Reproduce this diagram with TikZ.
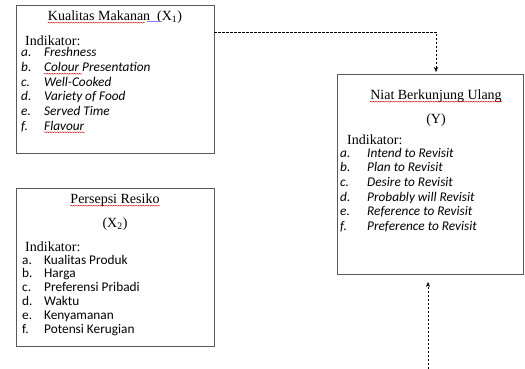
\documentclass[tikz,border=0pt]{standalone}
\usepackage{fontspec}
\setmainfont{Liberation Serif}
\newfontfamily\calibrifont{Carlito}
\usetikzlibrary{arrows.meta,decorations.pathmorphing,calc}
\begin{document}
\begin{tikzpicture}[x=1pt,y=-1pt,
  box/.style={draw=black!65,line width=0.8pt,minimum width=#1,inner sep=0pt,anchor=north west},
  ttl/.style={font=\fontsize{14}{16}\selectfont,inner sep=0pt,anchor=center,text height=10pt,text depth=3pt},
  ind/.style={font=\fontsize{14}{16}\selectfont,inner sep=0pt,anchor=west},
  itm/.style={font=\calibrifont\fontsize{13.3}{15}\selectfont,inner sep=0pt,anchor=west,text height=9pt,text depth=3pt},
  itmi/.style={itm,font=\calibrifont\itshape\fontsize{13.3}{15}\selectfont},
  conn/.style={draw=black,line width=0.5pt,dash pattern=on 2.5pt off 1.5pt,-{Stealth[length=5pt,width=4pt]}},
  spell/.style={draw=red!80!black,line width=0.4pt,decorate,decoration={snake,amplitude=0.45pt,segment length=2.5pt}},
  gram/.style={draw=blue!50,line width=0.4pt,double distance=0.8pt}
]
\useasboundingbox (0,0) rectangle (525,369);
% boxes
\node[box=198pt,minimum height=148pt] (x1) at (16,5) {};
\node[box=198pt,minimum height=158pt] (x2) at (16,188) {};
\node[box=186pt,minimum height=200pt] (y) at (337,74) {};
% X1 texts
\node[ttl] (x1t) at (115,17) {Kualitas Makanan\ \ (X\textsubscript{1})};
\node[ind] (x1i) at (25,41) {Indikator:};
\foreach \l/\t [count=\i from 0] in {a./Freshness,b./Colour Presentation,c./Well-Cooked,d./Variety of Food,e./Served Time,f./Flavour}{
  \node[itmi] (x1l\i) at (21,54+14.6*\i) {\l};
  \node[itmi] (x1a\i) at (44,54+14.6*\i) {\t};
}
% X2 texts
\node[ttl] (x2t) at (115,200) {Persepsi Resiko};
\node[ttl] (x2s) at (115,224) {(X\textsubscript{2})};
\node[ind] (x2i) at (25,247) {Indikator:};
\foreach \l/\t [count=\i from 0] in {a./Kualitas Produk,b./Harga,c./Preferensi Pribadi,d./Waktu,e./Kenyamanan,f./Potensi Kerugian}{
  \node[itm] (x2l\i) at (22,261+13.8*\i) {\l};
  \node[itm] (x2a\i) at (44,261+13.8*\i) {\t};
}
% Y texts
\node[ttl] (yt) at (436,96) {Niat Berkunjung Ulang};
\node[ttl] (ys) at (436,120) {(Y)};
\node[ind] (yi) at (347,140) {Indikator:};
\foreach \l/\t [count=\i from 0] in {a./Intend to Revisit,b./Plan to Revisit,c./Desire to Revisit,d./Probably will Revisit,e./Reference to Revisit,f./Preference to Revisit}{
  \node[itmi] (yl\i) at (340,154+14.7*\i) {\l};
  \node[itmi] (ya\i) at (367,154+14.7*\i) {\t};
}
% spelling marks
\draw[spell] ($(x1t.south west)+(0,-1)$) -- ($(x1t.south west)!0.72!(x1t.south east)+(0,-1)$);
\draw[gram] ($(x1t.south west)!0.74!(x1t.south east)+(0,-1.5)$) -- ($(x1t.south west)!0.85!(x1t.south east)+(0,-1.5)$);
\draw[spell] ($(x1a1.south west)+(0,-1)$) -- ($(x1a1.south west)!0.36!(x1a1.south east)+(0,-1)$);
\draw[spell] ($(x1a5.south west)+(0,-1)$) -- ($(x1a5.south east)+(0,-1)$);
\draw[spell] ($(x2t.south west)+(0,-1)$) -- ($(x2t.south east)+(0,-1)$);
\draw[spell] ($(yt.south west)+(0,-1)$) -- ($(yt.south east)+(0,-1)$);
% connectors
\coordinate (c1) at (214,32);
\coordinate (c2) at (436,72);
\coordinate (c3) at (428,369);
\coordinate (c4) at (428,282);
\draw[conn] (c1) -| (c2);
\draw[conn] (c3) -- (c4);
\end{tikzpicture}
\end{document}
